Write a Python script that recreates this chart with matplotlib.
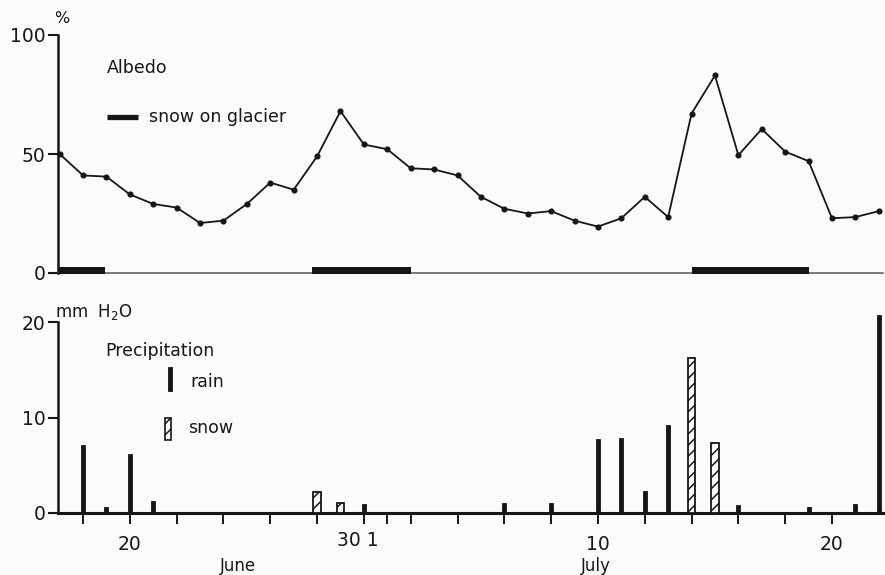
import matplotlib
matplotlib.use("Agg")
import matplotlib.pyplot as plt
from matplotlib.patches import Rectangle
from matplotlib.transforms import blended_transform_factory

# Day numbers counted from 1 June (31 = 1 July)
albedo_days = [17, 18, 19, 20, 21, 22, 23, 24, 25, 26, 27, 28, 29, 30, 31, 32, 33, 34,
               35, 36, 37, 38, 39, 40, 41, 42, 43, 44, 45, 46, 47, 48, 49, 50, 51, 52]
albedo = [50, 41, 40.5, 33, 29, 27.5, 21, 22, 29, 38, 35, 49, 68, 54, 52, 44, 43.5, 41,
          32, 27, 25, 26, 22, 19.5, 23, 32, 23.5, 67, 83, 49.5, 60.5, 51, 47, 23, 23.5, 26]

# Periods with snow on the glacier (start, end day)
snow_start = [16.93, 27.8, 44.0]
snow_end = [18.93, 32.0, 49.0]

rain_days = [18, 19, 20, 21, 30, 36, 38, 40, 41, 42, 43, 46, 49, 51, 52]
rain_mm = [7.1, 0.6, 6.2, 1.3, 0.9, 1.0, 1.0, 7.7, 7.9, 2.3, 9.2, 0.8, 0.6, 0.9, 20.7]

snowfall_days = [28, 29, 44, 45]
snowfall_mm = [2.2, 1.0, 16.2, 7.3]

tick_days = [18, 20, 22, 24, 26, 28, 30, 31, 32, 34, 36, 38, 40, 42, 44, 46, 48, 50]
tick_labels = {20: "20", 40: "10", 50: "20"}

INK = "#161616"
BG = "#fbfbf9"
FS = 12.5
HATCH = "///"

plt.rcParams["font.family"] = ["DejaVu Sans"]
plt.rcParams["hatch.linewidth"] = 1.1
plt.rcParams["hatch.color"] = INK

W, H = 885, 575
fig = plt.figure(figsize=(W / 100, H / 100), dpi=100, facecolor=BG)

x0, x1 = 16.93, 52.18
left_px, right_px = 58, 883

# ---------------- Albedo panel ----------------
top_px, zero_px = 35, 273
ax1 = fig.add_axes([left_px / W, (H - zero_px) / H, (right_px - left_px) / W, (zero_px - top_px) / H])
ax1.set_facecolor("none")
ax1.set_xlim(x0, x1)
ax1.set_ylim(0, 100)
for s in ("top", "right"):
    ax1.spines[s].set_visible(False)
ax1.spines["left"].set_color(INK)
ax1.spines["left"].set_linewidth(1.8)
ax1.spines["bottom"].set_color("#555555")
ax1.spines["bottom"].set_linewidth(1.1)
ax1.set_xticks([])
ax1.set_yticks([0, 50, 100])
ax1.set_yticklabels(["0", "50", "100"])
ax1.tick_params(axis="y", direction="out", length=7, width=1.5, color=INK,
                labelsize=FS + 1, labelcolor=INK, pad=2)

ax1.plot(albedo_days, albedo, color=INK, lw=1.3, marker="o", ms=3.4,
         mfc=INK, mec=INK, clip_on=False, zorder=3)

ax1.broken_barh([(s, e - s) for s, e in zip(snow_start, snow_end)], (-0.4, 3.0),
                facecolors=INK, edgecolor="none", clip_on=False, zorder=4)

ax1.text(16.75, 107, "%", fontsize=FS - 1, color=INK, ha="left", va="center", clip_on=False)
ax1.text(19.02, 86, "Albedo", fontsize=FS, color=INK, ha="left", va="center")
ax1.plot([19.02, 20.35], [65.5, 65.5], color=INK, lw=3.8, solid_capstyle="butt")
ax1.text(20.8, 65.5, "snow on glacier", fontsize=FS, color=INK, ha="left", va="center")

# ---------------- Precipitation panel ----------------
zero2_px = 513
px_per_mm = 9.55
ymax2 = 21
ax2 = fig.add_axes([left_px / W, (H - zero2_px) / H, (right_px - left_px) / W, ymax2 * px_per_mm / H])
ax2.set_facecolor("none")
ax2.set_xlim(x0, x1)
ax2.set_ylim(0, ymax2)
for s in ("top", "right"):
    ax2.spines[s].set_visible(False)
ax2.spines["left"].set_color(INK)
ax2.spines["left"].set_linewidth(1.8)
ax2.spines["left"].set_bounds(0, 20)
ax2.spines["bottom"].set_color(INK)
ax2.spines["bottom"].set_linewidth(2.2)
ax2.set_yticks([0, 10, 20])
ax2.set_yticklabels(["0", "10", "20"])
ax2.set_xticks(tick_days)
ax2.set_xticklabels([tick_labels.get(d, "") for d in tick_days])
ax2.tick_params(axis="y", direction="out", length=7, width=1.5, color=INK,
                labelsize=FS + 1, labelcolor=INK, pad=2)
ax2.tick_params(axis="x", direction="out", length=8, width=1.4, color=INK,
                labelsize=FS + 1, labelcolor=INK, pad=8)

ax2.bar(rain_days, rain_mm, width=0.17, color=INK, edgecolor=INK, lw=0.6,
        clip_on=False, zorder=3)
ax2.bar(snowfall_days, snowfall_mm, width=0.32, facecolor="white", edgecolor=INK,
        lw=1.3, hatch=HATCH, clip_on=False, zorder=3)

ax2.text(16.8, 20.5, "mm  H$_2$O", fontsize=FS - 0.5, color=INK, ha="left",
         va="baseline", clip_on=False)
ax2.text(18.93, 17.0, "Precipitation", fontsize=FS, color=INK, ha="left", va="center")
ax2.add_patch(Rectangle((21.62, 12.8), 0.17, 2.5, facecolor=INK, edgecolor=INK, lw=0.6))
ax2.text(22.6, 13.7, "rain", fontsize=FS, color=INK, ha="left", va="center")
ax2.add_patch(Rectangle((21.5, 7.6), 0.26, 2.4, facecolor="white", edgecolor=INK,
                        lw=1.2, hatch=HATCH))
ax2.text(22.5, 8.9, "snow", fontsize=FS, color=INK, ha="left", va="center")

tr = blended_transform_factory(ax2.transData, ax2.transAxes)
ax2.text(29.75, -0.135, "30 1", fontsize=FS + 1, color=INK, ha="center", va="center",
         transform=tr, clip_on=False)
ax2.text(24.6, -0.264, "June", fontsize=FS - 0.5, color=INK, ha="center", va="center",
         transform=tr, clip_on=False)
ax2.text(39.9, -0.264, "July", fontsize=FS - 0.5, color=INK, ha="center", va="center",
         transform=tr, clip_on=False)

fig.savefig("out.png", dpi=100, facecolor=BG)
